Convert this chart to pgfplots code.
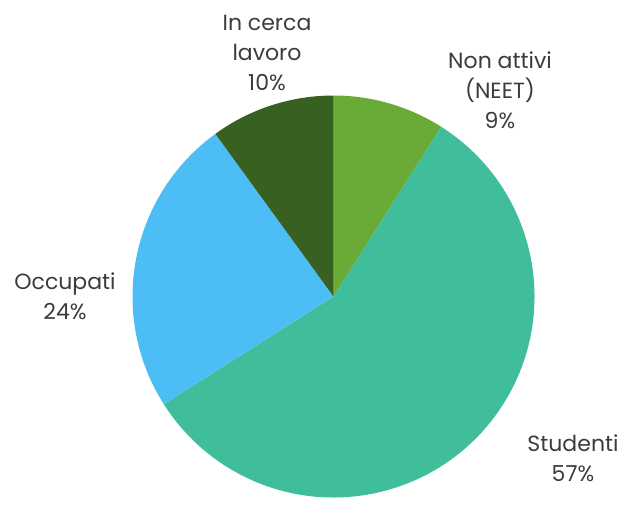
\documentclass[border=0pt]{standalone}
\usepackage{pgfplots}
\pgfplotsset{compat=1.18}
\usepackage{pgfplotstable}
\usepackage{fontspec}
\setmainfont{Poppins}
\definecolor{neet}{HTML}{6AAA37}
\definecolor{studenti}{HTML}{40BE9B}
\definecolor{occupati}{HTML}{4DBEF5}
\definecolor{cerca}{HTML}{386020}
\definecolor{txt}{HTML}{3C3C3C}

% slices clockwise from 12 o'clock
\pgfplotstableread{
label      value
neet       9
studenti   57
occupati   24
cerca      10
}\piedata

\begin{document}
\begin{tikzpicture}
\pgfplotstablegetelem{0}{value}\of\piedata \let\vA\pgfplotsretval
\pgfplotstablegetelem{1}{value}\of\piedata \let\vB\pgfplotsretval
\pgfplotstablegetelem{2}{value}\of\piedata \let\vC\pgfplotsretval
\pgfplotstablegetelem{3}{value}\of\piedata \let\vD\pgfplotsretval
\pgfmathsetmacro\aA{90-3.6*\vA}
\pgfmathsetmacro\aB{\aA-3.6*\vB}
\pgfmathsetmacro\aC{\aB-3.6*\vC}
\pgfmathsetmacro\aD{\aC-3.6*\vD}
\def\cx{333.5}\def\cy{204.5}\def\r{201pt}
\begin{axis}[
  scale only axis, width=630pt, height=501pt,
  xmin=0, xmax=630, ymin=0, ymax=501,
  hide axis, clip=false,
]
\path (axis cs:0,0) rectangle (axis cs:630,501);
\fill[neet] (axis cs:\cx,\cy) -- ++(90:\r) arc[start angle=90, end angle=\aA, radius=\r] -- cycle;
\fill[studenti] (axis cs:\cx,\cy) -- ++(\aA:\r) arc[start angle=\aA, end angle=\aB, radius=\r] -- cycle;
\fill[occupati] (axis cs:\cx,\cy) -- ++(\aB:\r) arc[start angle=\aB, end angle=\aC, radius=\r] -- cycle;
\fill[cerca] (axis cs:\cx,\cy) -- ++(\aC:\r) arc[start angle=\aC, end angle=\aD, radius=\r] -- cycle;

\tikzset{lbl/.style={align=center, text=txt, font=\fontsize{22}{30}\selectfont, inner sep=0pt}}
\node[lbl] at (axis cs:267,448) {In cerca\\lavoro\\10\%};
\node[lbl] at (axis cs:500,411) {Non attivi\\(NEET)\\9\%};
\node[lbl] at (axis cs:65,205) {Occupati\\24\%};
\node[lbl] at (axis cs:573,43) {Studenti\\57\%};
\end{axis}
\end{tikzpicture}
\end{document}
